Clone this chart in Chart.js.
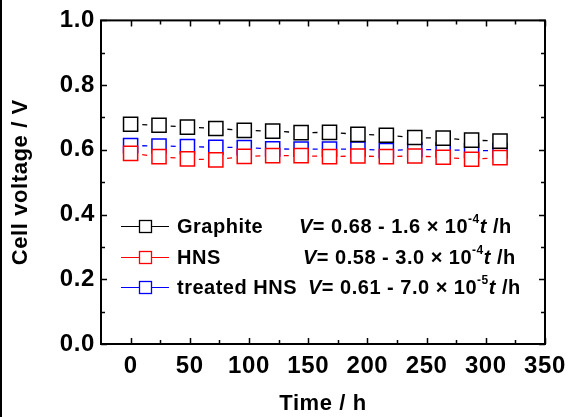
<!DOCTYPE html>
<html>
<head>
<meta charset="utf-8">
<script src="https://cdn.jsdelivr.net/npm/chart.js@4.4.1/dist/chart.umd.min.js"></script>
<style>
  body { margin: 0; background: #fff; }
  #wrap { position: relative; width: 574px; height: 417px; }
  #edge { position: absolute; left: 0; top: 0; width: 2px; height: 417px; background: #000; }
</style>
</head>
<body>
<div id="wrap">
  <canvas id="chart_cell" width="574" height="417"></canvas>
  <div id="edge"></div>
</div>
<script>
// 放電時間 (h)
var timeH = [0, 24, 48, 72, 96, 120, 144, 168, 192, 216, 240, 264, 288, 312];
// 電池電壓 (V)
var graphiteV = [0.679, 0.676, 0.670, 0.666, 0.660, 0.658, 0.653, 0.654, 0.648, 0.645, 0.638, 0.636, 0.630, 0.627];
var hnsV = [0.589, 0.579, 0.572, 0.569, 0.580, 0.582, 0.582, 0.579, 0.581, 0.579, 0.581, 0.577, 0.571, 0.576];
var treatedV = [0.613, 0.612, 0.610, 0.608, 0.607, 0.603, 0.602, 0.602, 0.602, 0.598, 0.601, 0.600, 0.598, 0.597];

var xTicks = [0, 50, 100, 150, 200, 250, 300, 350];
var yTicks = [0.0, 0.2, 0.4, 0.6, 0.8, 1.0];
var xMinor = [25, 75, 125, 175, 225, 275, 325];
var yMinor = [0.1, 0.3, 0.5, 0.7, 0.9];

var seriesNames = ["Graphite", "HNS", "treated HNS"];
var seriesColors = ["#000000", "#ff0000", "#0000ff"];
var fitIntercept = ["0.68", "0.58", "0.61"];
var fitSlope = ["1.6", "3.0", "7.0"];
var fitExp = ["-4", "-4", "-5"];

var FONT = '"Liberation Sans", Arial, sans-serif';

function pts(vals) {
    var out = [];
    for (let i = 0; i < timeH.length; i++) {
        out.push({x: timeH[i], y: vals[i]});
    }
    return out;
}

// 字距 (原圖字較寬)
const wideText = {
    id: 'wideText',
    beforeDraw(chart) { chart.ctx.letterSpacing = '0.6px'; }
};

// 外框 + 內向刻度
const frameTicks = {
    id: 'frameTicks',
    afterDatasetsDraw(chart) {
        const ctx = chart.ctx;
        const a = chart.chartArea;
        const xs = chart.scales.x, ys = chart.scales.y;
        ctx.save();
        ctx.strokeStyle = '#000';
        ctx.lineWidth = 2;
        ctx.strokeRect(a.left, a.top, a.right - a.left, a.bottom - a.top);
        ctx.lineWidth = 1.5;
        ctx.beginPath();
        function xt(v, len) {
            const p = Math.round(xs.getPixelForValue(v)) + 0.5;
            ctx.moveTo(p, a.bottom); ctx.lineTo(p, a.bottom - len);
            ctx.moveTo(p, a.top); ctx.lineTo(p, a.top + len);
        }
        function yt(v, len) {
            const p = Math.round(ys.getPixelForValue(v)) + 0.5;
            ctx.moveTo(a.left, p); ctx.lineTo(a.left + len, p);
            ctx.moveTo(a.right, p); ctx.lineTo(a.right - len, p);
        }
        xTicks.forEach(v => xt(v, 6));
        xMinor.forEach(v => xt(v, 4));
        yTicks.forEach(v => yt(v, 6));
        yMinor.forEach(v => yt(v, 4));
        ctx.stroke();
        ctx.restore();
    }
};

// 圖例 (含擬合式)
const fitLegend = {
    id: 'fitLegend',
    afterDraw(chart) {
        const ctx = chart.ctx;
        const rowY = [226, 257, 287];
        const eqX = [299, 303, 308];
        ctx.save();
        ctx.letterSpacing = '0.5px';
        ctx.textBaseline = 'middle';
        for (let i = 0; i < seriesNames.length; i++) {
            const y = rowY[i];
            ctx.strokeStyle = seriesColors[i];
            ctx.lineWidth = 1;
            ctx.beginPath();
            ctx.moveTo(121, y + 0.5); ctx.lineTo(169, y + 0.5);
            ctx.stroke();
            ctx.fillStyle = '#fff';
            ctx.fillRect(139.5, y - 5.5, 12, 12);
            ctx.lineWidth = 1.3;
            ctx.strokeRect(139.5, y - 5.5, 12, 12);

            ctx.fillStyle = '#000';
            ctx.font = 'bold 20px ' + FONT;
            ctx.fillText(seriesNames[i], 177, y + 1);

            let x = eqX[i];
            const parts = [
                {t: 'V', f: 'italic bold 20px', dy: 1},
                {t: '= ' + fitIntercept[i] + ' - ' + fitSlope[i] + ' \u00d7 10', f: 'bold 20px', dy: 1},
                {t: fitExp[i], f: 'bold 12px', dy: -6},
                {t: 't', f: 'italic bold 20px', dy: 1},
                {t: ' /h', f: 'bold 20px', dy: 1}
            ];
            parts.forEach(p => {
                ctx.font = p.f + ' ' + FONT;
                ctx.fillText(p.t, x, y + p.dy);
                x += ctx.measureText(p.t).width;
            });
        }
        ctx.restore();
    }
};

const ctc = document.getElementById('chart_cell');
const dash = [5, 23.4];
new Chart(ctc, {
    type: 'line',
    data: {
        datasets: [{
            label: seriesNames[0],
            data: pts(graphiteV),
            borderColor: seriesColors[0],
            order: 0
        }, {
            label: seriesNames[1],
            data: pts(hnsV),
            borderColor: seriesColors[1],
            order: 1
        }, {
            label: seriesNames[2],
            data: pts(treatedV),
            borderColor: seriesColors[2],
            order: 2
        }].map(d => Object.assign(d, {
            backgroundColor: '#fff',
            pointBackgroundColor: '#fff',
            pointBorderColor: d.borderColor,
            pointStyle: 'rect',
            pointRadius: 10,
            pointBorderWidth: 1.5,
            borderWidth: 1.3,
            borderDash: dash,
            borderDashOffset: 16.7,
            tension: 0,
            fill: false
        }))
    },
    options: {
        responsive: false,
        animation: false,
        devicePixelRatio: 1,
        layout: { padding: { left: 0, right: 29, top: 20, bottom: 0 } },
        plugins: { legend: { display: false }, tooltip: { enabled: false } },
        scales: {
            x: {
                type: 'linear',
                min: -25, max: 350,
                afterBuildTicks: s => { s.ticks = xTicks.map(v => ({value: v})); },
                afterFit: s => { s.height = 73; },
                grid: { display: false, drawTicks: false },
                border: { display: false },
                ticks: {
                    padding: 8,
                    color: '#000',
                    font: { family: FONT, size: 24, weight: 'bold' }
                },
                title: {
                    display: true, text: 'Time / h', color: '#000',
                    padding: { top: 0, bottom: 0 },
                    font: { family: FONT, size: 22, weight: 'bold' }
                }
            },
            y: {
                min: 0, max: 1,
                afterBuildTicks: s => { s.ticks = yTicks.map(v => ({value: v})); },
                afterFit: s => { s.width = 101; },
                grid: { display: false, drawTicks: false },
                border: { display: false },
                ticks: {
                    padding: 6,
                    color: '#000',
                    callback: v => v.toFixed(1),
                    font: { family: FONT, size: 24, weight: 'bold' }
                },
                title: {
                    display: true, text: 'Cell voltage / V', color: '#000',
                    padding: { top: 8, bottom: 0 },
                    font: { family: FONT, size: 22, weight: 'bold' }
                }
            }
        }
    },
    plugins: [wideText, frameTicks, fitLegend]
});
</script>
</body>
</html>
